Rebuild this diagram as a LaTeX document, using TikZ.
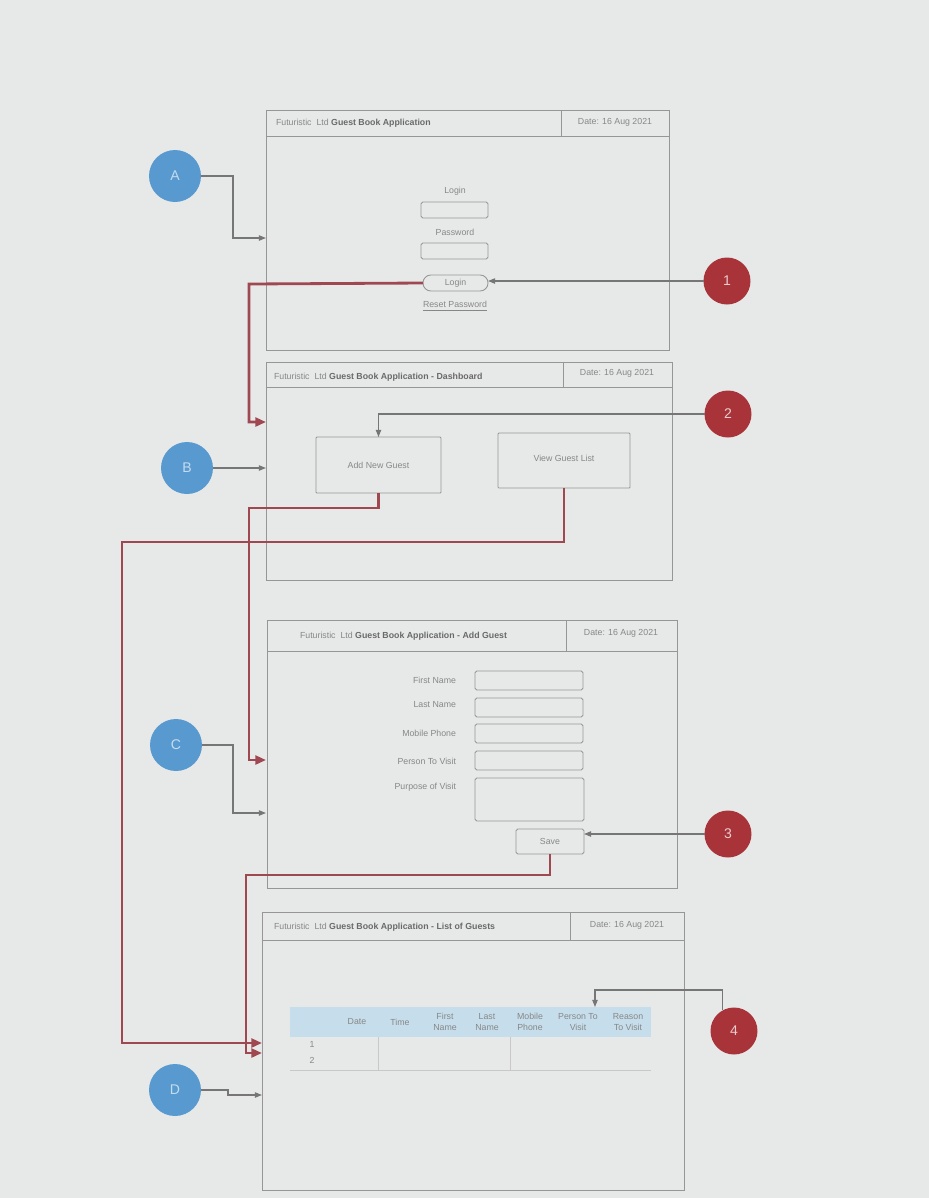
\documentclass[tikz,border=0pt]{standalone}
\usepackage{fontspec}
\setmainfont{Liberation Sans}
\usetikzlibrary{arrows.meta,fit}

\definecolor{paper}{RGB}{231,233,232}
\definecolor{frame}{RGB}{150,150,150}
\definecolor{inktxt}{RGB}{135,135,135}
\definecolor{heading}{RGB}{105,105,105}
\definecolor{markA}{RGB}{88,154,208}
\definecolor{markN}{RGB}{168,52,58}
\definecolor{flow}{RGB}{160,72,82}
\definecolor{hint}{RGB}{118,118,118}
\definecolor{thead}{RGB}{198,222,236}

\begin{document}
\begin{tikzpicture}[x=0.02cm, y=-0.02cm,
  every node/.style={font=\fontsize{5}{6}\selectfont, text=inktxt, inner sep=0pt, outer sep=0pt},
  screen/.style={draw=frame, line width=0.55pt},
  field/.style={draw=frame, line width=0.5pt, rounded corners=1pt},
  title/.style={anchor=west, text=heading, font=\fontsize{5}{6}\selectfont\bfseries},
  keyA/.style={circle, fill=markA, text=markA!35!white, minimum size=1.04cm, font=\fontsize{8}{9}\selectfont},
  keyN/.style={circle, fill=markN, text=markN!25!white, minimum size=0.94cm, font=\fontsize{8}{9}\selectfont},
  guide/.style={draw=hint, line width=0.7pt, -{Triangle[length=4pt,width=3pt]}},
  route/.style={draw=flow, line width=1.6pt, -{Triangle[length=6pt,width=5pt]}}]

\fill[paper] (0,0) rectangle (929,1198);

\node[screen, fit={(266,110) (669,350)}] (scrA) {};
\draw[frame, line width=0.55pt] (266,136) -- (669,136) (561,110) -- (561,136);
\node[title] (ttlA) at (276,123) {{\mdseries\color{inktxt}Futuristic\ \ Ltd} Guest Book Application};
\node (dateA) at (615,122) {Date: 16 Aug 2021};
\node (lblLogin) at (455,191) {Login};
\node[field, fit={(421,202) (488,218)}] (boxLogin) {};
\node (lblPass) at (455,232) {Password};
\node[field, fit={(421,243) (488,259)}] (boxPass) {};
\node[field, rounded corners=4.5pt, fit={(423,275) (488,291)}, label=center:Login] (btnLogin) {};
\node (lnkReset) at (455,306) {\underline{Reset Password}};

\node[screen, fit={(266,362) (672,580)}] (scrB) {};
\draw[frame, line width=0.55pt] (266,387) -- (672,387) (563,362) -- (563,387);
\node[title] (ttlB) at (274,377) {{\mdseries\color{inktxt}Futuristic\ \ Ltd} Guest Book Application - Dashboard};
\node (dateB) at (617,373) {Date: 16 Aug 2021};
\node[field, rounded corners=0.5pt, fit={(316,437) (441,493)}, label=center:Add New Guest] (btnAdd) {};
\node[field, rounded corners=0.5pt, fit={(498,433) (630,488)}, label={[yshift=1pt]center:View Guest List}] (btnView) {};

\node[screen, fit={(267,620) (677,888)}] (scrC) {};
\draw[frame, line width=0.55pt] (267,651) -- (677,651) (566,620) -- (566,651);
\node[title] (ttlC) at (300,636) {{\mdseries\color{inktxt}Futuristic\ \ Ltd} Guest Book Application - Add Guest};
\node (dateC) at (621,633) {Date: 16 Aug 2021};
\node[anchor=east] (lblFirst) at (456,680) {First Name};
\node[anchor=east] (lblLast) at (456,705) {Last Name};
\node[anchor=east] (lblMobile) at (456,733) {Mobile Phone};
\node[anchor=east] (lblPerson) at (456,761) {Person To Visit};
\node[anchor=east] (lblPurpose) at (456,787) {Purpose of Visit};
\node[field, fit={(475,671) (583,690)}] (boxFirst) {};
\node[field, fit={(475,698) (583,717)}] (boxLast) {};
\node[field, fit={(475,724) (583,743)}] (boxMobile) {};
\node[field, fit={(475,751) (583,770)}] (boxPerson) {};
\node[field, fit={(475,778) (584,821)}] (boxPurpose) {};
\node[field, fit={(516,829) (584,854)}, label=center:Save] (btnSave) {};

\node[screen, fit={(262,912) (684,1190)}] (scrD) {};
\draw[frame, line width=0.55pt] (262,940) -- (684,940) (570,912) -- (570,940);
\node[title] (ttlD) at (274,927) {{\mdseries\color{inktxt}Futuristic\ \ Ltd} Guest Book Application - List of Guests};
\node (dateD) at (627,925) {Date: 16 Aug 2021};
\node[fill=thead, fit={(290,1007) (651,1037)}] (tbl) {};
\draw[frame!40!paper, line width=0.5pt] (290,1070) -- (651,1070) (378,1037) -- (378,1070) (510,1037) -- (510,1070);
\node (colDate) at (357,1022) {Date};
\node (colTime) at (400,1022) {Time};
\node[align=center] (colFirst) at (445,1022) {First\\Name};
\node[align=center] (colLast) at (487,1022) {Last\\Name};
\node[align=center] (colMobile) at (530,1022) {Mobile\\Phone};
\node[align=center] (colPerson) at (578,1022) {Person To\\Visit};
\node[align=center] (colReason) at (628,1022) {Reason\\To Visit};
\node (row1) at (312,1044) {1};
\node (row2) at (312,1060) {2};

\node[keyA] (cA) at (175,176) {A};
\node[keyA] (cB) at (187,468) {B};
\node[keyA] (cC) at (176,745) {C};
\node[keyA] (cD) at (175,1090) {D};
\node[keyN] (n1) at (727,281) {1};
\node[keyN] (n2) at (728,414) {2};
\node[keyN] (n3) at (728,834) {3};
\node[keyN] (n4) at (734,1031) {4};

\coordinate (inA) at (266,238);
\coordinate (inC) at (266,813);
\coordinate (inD) at (262,1095);
\coordinate (inT) at (595,1007);
\coordinate (inB1) at (266,422);
\coordinate (inC1) at (266,760);
\coordinate (inD1) at (262,1043);
\coordinate (inD2) at (262,1053);

\draw[guide] (cA) -- (233,176) |- (inA);
\draw[guide] (cB) -- (scrB.west |- cB);
\draw[guide] (cC) -- (233,745) |- (inC);
\draw[guide] (cD) -- (228,1090) |- (inD);
\draw[guide] (n1) -- (btnLogin.east |- n1);
\draw[guide] (n2) -| (btnAdd.north);
\draw[guide] (n3) -- (btnSave.east |- n3);
\draw[guide] (n4.119) |- (595,990) -- (inT);

\draw[route] (btnLogin.west) -- (249,284) |- (inB1);
\draw[route] (btnAdd.south) |- (249,508) |- (inC1);
\draw[route] (btnView.south) |- (122,542) |- (inD1);
\draw[route] (btnSave.south) |- (246,875) |- (inD2);
\end{tikzpicture}
\end{document}
